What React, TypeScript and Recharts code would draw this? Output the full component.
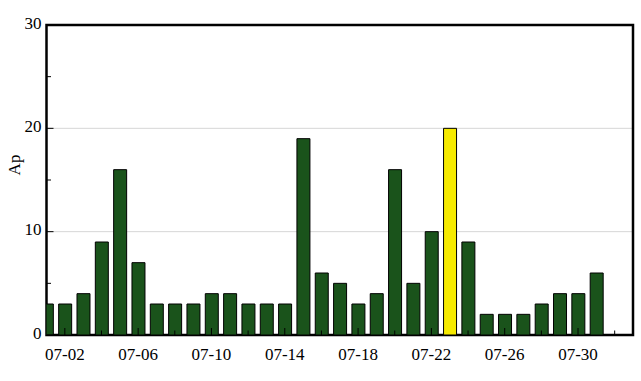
import React from 'react';
import { BarChart, Bar, XAxis, YAxis, CartesianGrid, ReferenceArea, Cell } from 'recharts';

const dates = [
  '07-01', '07-02', '07-03', '07-04', '07-05', '07-06', '07-07', '07-08', '07-09', '07-10',
  '07-11', '07-12', '07-13', '07-14', '07-15', '07-16', '07-17', '07-18', '07-19', '07-20',
  '07-21', '07-22', '07-23', '07-24', '07-25', '07-26', '07-27', '07-28', '07-29', '07-30', '07-31',
];
const apValues = [3, 3, 4, 9, 16, 7, 3, 3, 3, 4, 4, 3, 3, 3, 19, 6, 5, 3, 4, 16, 5, 10, 20, 9, 2, 2, 2, 3, 4, 4, 6];
const highlightDate = '07-23';
const xTickLabels = ['07-02', '07-04', '07-06', '07-08', '07-10', '07-12', '07-14', '07-16', '07-18', '07-20', '07-22', '07-24', '07-26', '07-28', '07-30', '08-01'];
const xMajorLabels = ['07-02', '07-06', '07-10', '07-14', '07-18', '07-22', '07-26', '07-30'];
const xDomainLabels = ['07-01', '08-02'];
const yTicks = [0, 5, 10, 15, 20, 25, 30];
const yMajorTicks = [0, 10, 20, 30];
const yGridValues = [10, 20];

const FONT = "'Liberation Serif', 'Times New Roman', serif";
const GREEN = '#1a531b';
const YELLOW = '#f6ea00';

const dayNum = (s: string) => {
  const [m, d] = s.split('-').map(Number);
  return (m - 7) * 31 + d;
};
const dayLabel = (n: number) => {
  const m = n > 31 ? 8 : 7;
  const d = n > 31 ? n - 31 : n;
  return `${String(m).padStart(2, '0')}-${String(d).padStart(2, '0')}`;
};

const data = dates.map((d, i) => ({ day: dayNum(d), date: d, ap: apValues[i] }));

const XTick = (props: any) => {
  const { x, y, payload } = props;
  const label = dayLabel(payload.value);
  const major = xMajorLabels.includes(label);
  return (
    <g>
      <line x1={x} x2={x} y1={y} y2={y - (major ? 7 : 4.5)} stroke="#000" strokeWidth={1} />
      {major && (
        <text x={x} y={y + 25} textAnchor="middle" fontFamily={FONT} fontSize={17} fill="#000">
          {label}
        </text>
      )}
    </g>
  );
};

const YTick = (props: any) => {
  const { x, y, payload } = props;
  const major = yMajorTicks.includes(payload.value);
  return (
    <g>
      <line x1={x} x2={x + (major ? 7 : 4.5)} y1={y} y2={y} stroke="#000" strokeWidth={1} />
      {major && (
        <text x={x - 5} y={y + 3.5} textAnchor="end" fontFamily={FONT} fontSize={17} fill="#000">
          {payload.value}
        </text>
      )}
    </g>
  );
};

const AxisLabel = () => (
  <text x={-165} y={20} transform="rotate(-90)" textAnchor="middle" fontFamily={FONT} fontSize={17} fill="#000">
    Ap
  </text>
);

export default function App() {
  return (
    <div style={{ position: 'absolute', left: 0, top: 0, background: '#fff' }}>
      <BarChart width={641} height={381} data={data} margin={{ top: 25, right: 8, bottom: 0, left: 0 }}>
        <CartesianGrid vertical={false} horizontalValues={yGridValues} stroke="#d6d6d6" strokeWidth={1} />
        <Bar dataKey="ap" barSize={13} stroke="#000" strokeWidth={1} isAnimationActive={false}>
          {data.map((d) => (
            <Cell key={d.date} fill={d.date === highlightDate ? YELLOW : GREEN} />
          ))}
        </Bar>
        <ReferenceArea
          x1={dayNum(xDomainLabels[0])}
          x2={dayNum(xDomainLabels[1])}
          y1={0}
          y2={30}
          fill="none"
          fillOpacity={0}
          stroke="#000"
          strokeWidth={2.5}
          ifOverflow="visible"
        />
        <XAxis
          dataKey="day"
          type="number"
          domain={[dayNum(xDomainLabels[0]), dayNum(xDomainLabels[1])]}
          allowDataOverflow
          ticks={xTickLabels.map(dayNum)}
          interval={0}
          tick={<XTick />}
          tickLine={false}
          axisLine={false}
          tickSize={0}
          tickMargin={0}
          height={46}
        />
        <YAxis
          type="number"
          domain={[0, 30]}
          ticks={yTicks}
          interval={0}
          tick={<YTick />}
          tickLine={false}
          axisLine={false}
          tickSize={0}
          tickMargin={0}
          width={46.5}
          label={<AxisLabel />}
        />
      </BarChart>
    </div>
  );
}
